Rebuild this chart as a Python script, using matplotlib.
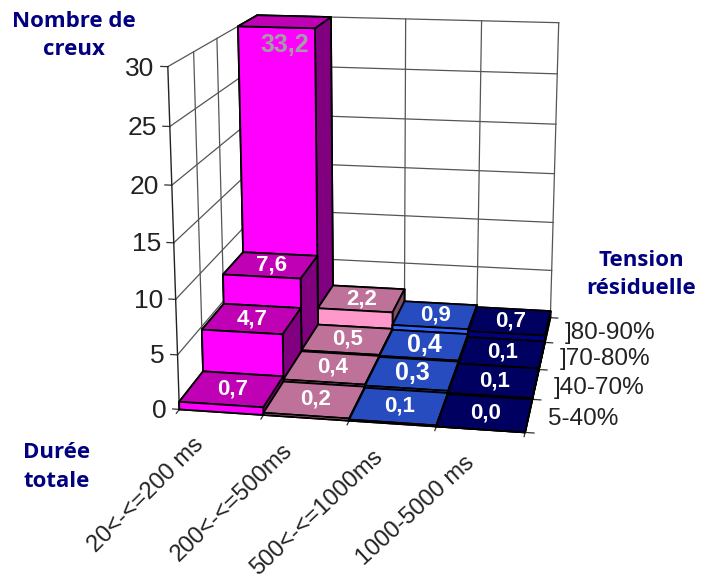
import matplotlib
matplotlib.use("Agg")
import matplotlib.pyplot as plt

durations = ["20<-<=200 ms", "200<-<=500ms", "500<-<=1000ms", "1000-5000 ms"]
tensions = ["5-40%", "]40-70%", "]70-80%", "]80-90%"]
# one list per tension row, front row first
row_5_40 = [0.7, 0.2, 0.1, 0.0]
row_40_70 = [4.7, 0.4, 0.3, 0.1]
row_70_80 = [7.6, 0.5, 0.4, 0.1]
row_80_90 = [33.2, 2.2, 0.9, 0.7]
rows = [row_5_40, row_40_70, row_70_80, row_80_90]
z_ticks = [0, 5, 10, 15, 20, 25, 30]
z_max = 30

# front, top, side colour of each duration column
front_colors = ["#FF00FF", "#FF99CC", "#3366FF", "#000080"]
top_colors = ["#BF00B4", "#BF7299", "#264CBF", "#000060"]
side_colors = ["#800080", "#804D66", "#1A3380", "#000040"]

plt.rcParams["font.family"] = "Liberation Sans"
fig = plt.figure(figsize=(7.14, 5.8), dpi=100)
ax = fig.add_subplot(projection="3d", computed_zorder=False)

# camera fitted against the reference
ax.view_init(14.776, -80.1793)
ax.set_proj_type("persp", focal_length=0.5429)
ax.set_box_aspect((0.9971, 1.0064, 1))
size = 551.6667
ax.set_position([(371.9408 - size / 2) / 714, (580 - 212.9451 - size / 2) / 580, size / 714, size / 580])

# walls
grid = "#555555"
for z in z_ticks:
    ax.plot([0, 0, 4], [0, 4, 4], [z, z, z], color=grid, lw=0.9, zorder=1)
    ax.plot([0, -0.08], [0, 0], [z, z], color="#333333", lw=0.9, zorder=1)
for i in range(1, 5):
    ax.plot([0, 0], [i, i], [0, z_max], color=grid, lw=0.9, zorder=1)
    ax.plot([i, i], [4, 4], [0, z_max], color=grid, lw=0.9, zorder=1)
ax.plot([0, 0], [0, 0], [0, z_max], color="#222222", lw=1, zorder=1)
for i in range(5):
    ax.plot([i, i], [0, -0.12], [0, 0], color="#333333", lw=0.9, zorder=1)
    ax.plot([4, 4.1], [i, i], [0, 0], color="#333333", lw=0.9, zorder=1)

# bars, back row first so that the nearer ones paint over
for r in range(3, -1, -1):
    for c in range(4):
        h = min(rows[r][c], z_max)
        col = [top_colors[c], top_colors[c], front_colors[c], front_colors[c], side_colors[c], side_colors[c]]
        bar = ax.bar3d(c, r, 0, 1, 1, h, color=col, edgecolor="black", linewidth=1.3, shade=False)
        bar.set_zorder(2 + (3 - r) * 10 + c)

ax.set_xlim(0, 4, view_margin=0)
ax.set_ylim(0, 4, view_margin=0)
ax.set_zlim(0, z_max, view_margin=0)
ax.set_axis_off()

# value labels
for r in range(4):
    for c in range(4):
        v = rows[r][c]
        txt = f"{v:.1f}".replace(".", ",")
        if v > z_max:
            # the bar is cut at the top of the axis, its label sits on the front face
            ax.text(c + 0.6, r, 28.3, txt, color="#A0A0A0", fontsize=18, fontweight="bold",
                    ha="center", va="center", zorder=100)
        else:
            fs = 18 if c == 2 and r in (1, 2) else 16
            ax.text(c + 0.5, r + 0.5, v, txt, color="white", fontsize=fs, fontweight="bold",
                    ha="center", va="center", zorder=100)

for z in z_ticks:
    ax.text(-0.15, 0, z - 0.2, str(z), fontsize=19, color="#222222", ha="right", va="center", zorder=100)
for i, name in enumerate(tensions):
    ax.text(4.22, i + 0.5, -0.25, name, fontsize=17.5, color="#222222", ha="left", va="center", zorder=100)
# zdir gives the slant: 3D text follows the projected direction
for i, name in enumerate(durations):
    ax.text(i + 0.5, -0.85, 0, name, zdir=(0.1, 0, 0.8), fontsize=17, color="#222222", ha="right", va="center",
            rotation_mode="anchor", zorder=100)

navy = "#000080"
title_font = dict(family="Open Sans", fontsize=16, fontweight="bold", color=navy,
                  ha="center", va="center", linespacing=1.45)
fig.text(74 / 714, 1 - 35.5 / 580, "Nombre de\ncreux", **title_font)
fig.text(641 / 714, 1 - 274.5 / 580, "Tension\nrésiduelle", **title_font)
fig.text(57 / 714, 1 - 467 / 580, "Durée\ntotale", **title_font)

fig.savefig("out.png", dpi=100)
